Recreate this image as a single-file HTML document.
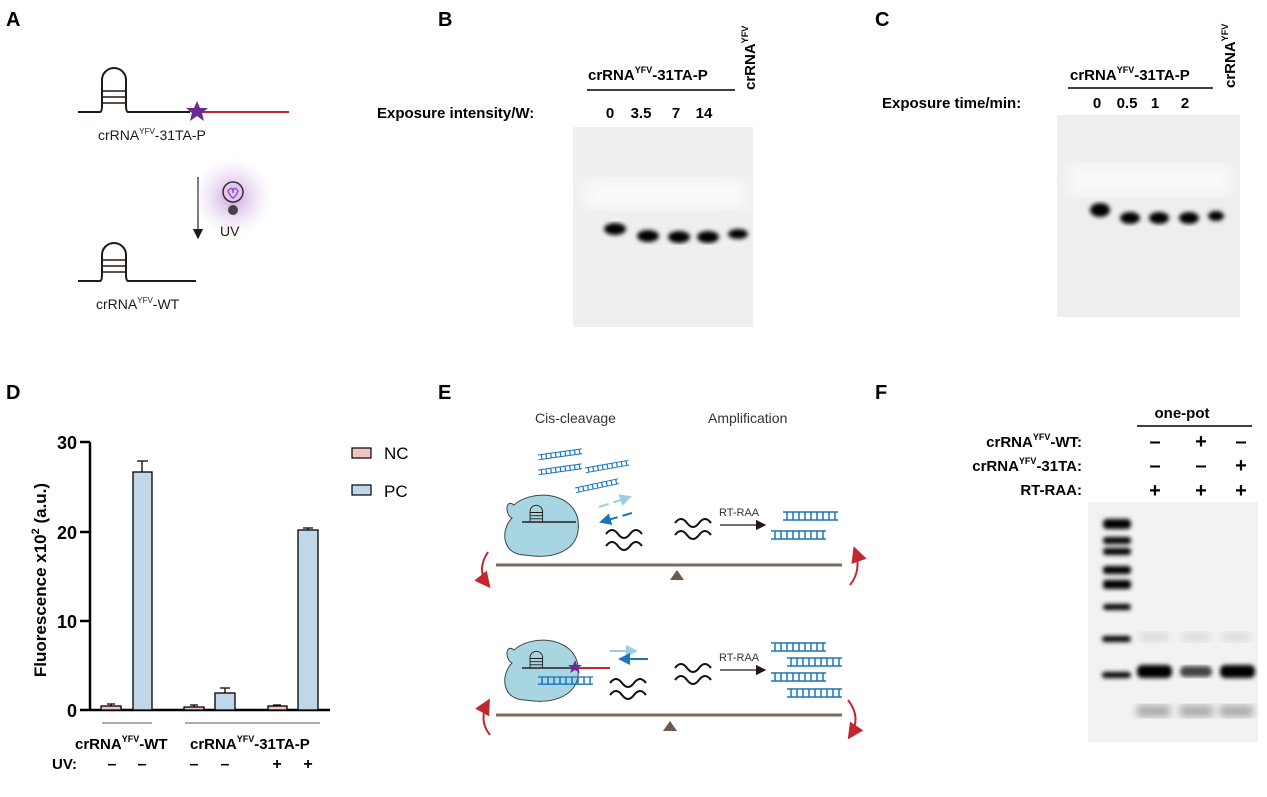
<!DOCTYPE html>
<html><head><meta charset="utf-8"><style>
html,body{margin:0;padding:0;background:#fff}
svg{display:block}
text{font-family:"Liberation Sans",Arial,sans-serif}
</style></head><body>
<svg width="1267" height="797" viewBox="0 0 1267 797" xmlns="http://www.w3.org/2000/svg">
<defs>
<filter id="b2"><feGaussianBlur stdDeviation="2"/></filter>
<filter id="b4"><feGaussianBlur stdDeviation="4"/></filter>
<filter id="b8"><feGaussianBlur stdDeviation="8"/></filter>
<radialGradient id="glow"><stop offset="0" stop-color="#b98ad0" stop-opacity=".8"/><stop offset="1" stop-color="#e6d3ef" stop-opacity="0"/></radialGradient>
<marker id="ah" markerWidth="8" markerHeight="8" refX="7" refY="4" orient="auto"><path d="M0,0 L8,4 L0,8 z" fill="#231815"/></marker>
<marker id="ahr" markerWidth="8" markerHeight="8" refX="6" refY="4" orient="auto"><path d="M0,0 L8,4 L0,8 z" fill="#c1272d"/></marker>
<marker id="ahb" markerWidth="6" markerHeight="6" refX="5" refY="3" orient="auto"><path d="M0,0 L6,3 L0,6 z" fill="#1b75bc"/></marker>
<marker id="ahl" markerWidth="6" markerHeight="6" refX="5" refY="3" orient="auto"><path d="M0,0 L6,3 L0,6 z" fill="#9ccbe8"/></marker>
<g id="hp" fill="none" stroke="#231815" stroke-width="2"><path d="M20,52 L20,28 A14,14 0 1 1 48,28 L48,52"/><path d="M20,30H48M20,37H48M20,44H48"/></g>
<g id="wave" fill="none" stroke="#111" stroke-width="2"><path d="M0,8 q6,-8 12,0 t12,0 t12,0"/><path d="M0,20 q6,-8 12,0 t12,0 t12,0"/></g>
<g id="ds" stroke="#1b75bc" stroke-width="1.5" fill="none"><path d="M0,0H55M0,8H55"/><path d="M4,0V8M10,0V8M16,0V8M22,0V8M28,0V8M34,0V8M40,0V8M46,0V8M52,0V8"/></g>
</defs>

<!-- Panel letters -->
<g font-size="20" font-weight="bold" fill="#000">
<text x="6" y="26">A</text><text x="438" y="26">B</text><text x="875" y="26">C</text>
<text x="6" y="399">D</text><text x="438" y="399">E</text><text x="875" y="399">F</text>
</g>

<!-- Panel A -->
<g fill="none" stroke="#231815" stroke-width="2">
<path d="M78,112H100 Q102,112 102,105 L102,80 A12,12 0 0 1 126,80 L126,105 Q126,112 128,112 H190"/>
<path d="M102,91H126M102,97H126M102,103H126" stroke-width="1.5"/>
<path d="M78,281H100 Q102,281 102,274 L102,255 A12,12 0 0 1 126,255 L126,274 Q126,281 128,281 H196"/>
<path d="M102,260H126M102,266H126M102,272H126" stroke-width="1.5"/>
</g>
<path d="M200,112H289" stroke="#c1272d" stroke-width="2"/>
<polygon points="197,101 200,108 208,108 202,113 204,121 197,116 190,121 192,113 186,108 194,108" fill="#6a2c91"/>
<line x1="198" y1="177" x2="198" y2="238" stroke="#333" stroke-width="1.3" marker-end="url(#ah)"/>
<circle cx="233" cy="197" r="40" fill="url(#glow)"/>
<circle cx="233" cy="192" r="10" fill="#e0c9ec" stroke="#3a2a3a" stroke-width="1.5"/>
<path d="M228,191 q5,-6 5,2 q0,-8 5,-2 q-2,5 -5,7 q-3,-2 -5,-7z" fill="none" stroke="#9b4fc4" stroke-width="1.5"/>
<circle cx="233" cy="210" r="5" fill="#4a4048"/>
<text x="98" y="140" font-size="14" fill="#231815">crRNA<tspan font-size="8" dy="-6">YFV</tspan><tspan dy="6">-31TA-P</tspan></text>
<text x="220" y="236" font-size="14" fill="#231815">UV</text>
<text x="96" y="309" font-size="14" fill="#231815">crRNA<tspan font-size="8" dy="-6">YFV</tspan><tspan dy="6">-WT</tspan></text>

<!-- Panel B -->
<text x="588" y="80" font-size="15" font-weight="bold">crRNA<tspan font-size="9" dy="-7">YFV</tspan><tspan dy="7">-31TA-P</tspan></text>
<line x1="587" y1="90" x2="735" y2="90" stroke="#000" stroke-width="1.5"/>
<text transform="translate(755,90) rotate(-90)" font-size="15" font-weight="bold">crRNA<tspan font-size="9" dy="-7">YFV</tspan></text>
<text x="377" y="118" font-size="15" font-weight="bold">Exposure intensity/W:</text>
<g font-size="15" font-weight="bold" text-anchor="middle"><text x="610" y="118">0</text><text x="641" y="118">3.5</text><text x="676" y="118">7</text><text x="704" y="118">14</text></g>
<rect x="573" y="127" width="180" height="200" fill="#efefef"/>
<rect x="585" y="180" width="160" height="28" fill="#fbfbfb" filter="url(#b8)"/>
<g fill="#000" filter="url(#b2)">
<ellipse cx="615" cy="229" rx="11" ry="6"/><ellipse cx="648" cy="236" rx="11" ry="6"/><ellipse cx="679" cy="237" rx="11" ry="6"/><ellipse cx="708" cy="237" rx="11" ry="6"/><ellipse cx="738" cy="234" rx="10" ry="5"/>
</g>

<!-- Panel C -->
<text x="1070" y="80" font-size="15" font-weight="bold">crRNA<tspan font-size="9" dy="-7">YFV</tspan><tspan dy="7">-31TA-P</tspan></text>
<line x1="1068" y1="88" x2="1213" y2="88" stroke="#000" stroke-width="1.5"/>
<text transform="translate(1235,88) rotate(-90)" font-size="15" font-weight="bold">crRNA<tspan font-size="9" dy="-7">YFV</tspan></text>
<text x="882" y="108" font-size="15" font-weight="bold">Exposure time/min:</text>
<g font-size="15" font-weight="bold" text-anchor="middle"><text x="1097" y="108">0</text><text x="1127" y="108">0.5</text><text x="1155" y="108">1</text><text x="1185" y="108">2</text></g>
<rect x="1057" y="115" width="183" height="202" fill="#eeeeee"/>
<rect x="1070" y="165" width="160" height="30" fill="#fbfbfb" filter="url(#b8)"/>
<g fill="#000" filter="url(#b2)">
<ellipse cx="1100" cy="210" rx="10" ry="7"/><ellipse cx="1130" cy="218" rx="10" ry="6"/><ellipse cx="1159" cy="218" rx="10" ry="6"/><ellipse cx="1189" cy="218" rx="10" ry="6"/><ellipse cx="1216" cy="216" rx="8" ry="5"/>
</g>

<!-- Panel D -->
<g stroke="#000" stroke-width="2.5" fill="none">
<path d="M90,442V711M80,442H90M80,532H90M80,621H90M80,710H90M89,710H330"/>
</g>
<g font-size="18" font-weight="bold" text-anchor="end"><text x="77" y="449">30</text><text x="77" y="539">20</text><text x="77" y="628">10</text><text x="77" y="717">0</text></g>
<text transform="translate(46,580) rotate(-90)" font-size="17" font-weight="bold" text-anchor="middle">Fluorescence x10<tspan font-size="11" dy="-7">2</tspan><tspan dy="7"> (a.u.)</tspan></text>
<g stroke="#000" stroke-width="1.3">
<rect x="101" y="706" width="20" height="4" fill="#f4c2c2"/>
<rect x="133" y="472" width="19" height="238" fill="#c0d7ea"/>
<rect x="184" y="707" width="20" height="3" fill="#f4c2c2"/>
<rect x="215" y="693" width="20" height="17" fill="#c0d7ea"/>
<rect x="268" y="706" width="19" height="4" fill="#f4c2c2"/>
<rect x="298" y="530" width="20" height="180" fill="#c0d7ea"/>
<path d="M142,472V461M137,461H148M111,706V704M107,704H115M225,693V688M220,688H230M308,530V528M303,528H313M194,707V705M190,705H198M277,706V705M273,705H281" fill="none"/>
</g>
<path d="M102,723H152M185,723H320" stroke="#555" stroke-width="1"/>
<text x="75" y="749" font-size="15" font-weight="bold">crRNA<tspan font-size="9" dy="-7">YFV</tspan><tspan dy="7">-WT</tspan></text>
<text x="190" y="749" font-size="15" font-weight="bold">crRNA<tspan font-size="9" dy="-7">YFV</tspan><tspan dy="7">-31TA-P</tspan></text>
<text x="52" y="769" font-size="15" font-weight="bold">UV:</text>
<g font-size="16" font-weight="bold" text-anchor="middle"><text x="112" y="769">–</text><text x="142" y="769">–</text><text x="194" y="769">–</text><text x="225" y="769">–</text><text x="277" y="769">+</text><text x="308" y="769">+</text></g>
<rect x="352" y="448" width="19" height="10" fill="#f4c2c2" stroke="#000" stroke-width="1.2"/>
<text x="384" y="459" font-size="17">NC</text>
<rect x="352" y="485" width="19" height="10" fill="#c0d7ea" stroke="#000" stroke-width="1.2"/>
<text x="384" y="497" font-size="17">PC</text>

<!-- Panel E -->
<text x="535" y="423" font-size="14" fill="#333">Cis-cleavage</text>
<text x="708" y="423" font-size="14" fill="#333">Amplification</text>
<g transform="translate(538,455) rotate(-8)"><use href="#ds" transform="scale(0.8,0.6)"/></g>
<g transform="translate(538,470) rotate(-8)"><use href="#ds" transform="scale(0.8,0.6)"/></g>
<g transform="translate(585,468) rotate(-10)"><use href="#ds" transform="scale(0.8,0.6)"/></g>
<g transform="translate(575,488) rotate(-12)"><use href="#ds" transform="scale(0.8,0.6)"/></g>
<path d="M514,505 C505,498 505,515 512,518 C500,530 502,555 525,555 C555,560 582,550 578,520 C572,490 530,490 514,505z" fill="#a8d5e2" stroke="#444" stroke-width="1"/>
<g transform="translate(521,499) scale(0.45)"><use href="#hp"/></g>
<path d="M522,522H576" stroke="#222" stroke-width="1.5"/>
<path d="M599,507L630,497" stroke="#9ccbe8" stroke-width="2" stroke-dasharray="10,5" marker-end="url(#ahl)"/>
<path d="M632,513L601,522" stroke="#1b75bc" stroke-width="2" stroke-dasharray="10,5" marker-end="url(#ahb)"/>
<use href="#wave" transform="translate(606,526)"/>
<use href="#wave" transform="translate(675,515)"/>
<text x="719" y="516" font-size="11" fill="#333">RT-RAA</text>
<line x1="720" y1="525" x2="765" y2="525" stroke="#231815" stroke-width="1.3" marker-end="url(#ah)"/>
<use href="#ds" transform="translate(783,512)"/>
<use href="#ds" transform="translate(771,531)"/>
<path d="M496,565H842" stroke="#7a6a5e" stroke-width="3"/>
<polygon points="670,580 677,570 684,580" fill="#6b5a4e"/>
<path d="M488,552 Q476,570 488,585" fill="none" stroke="#c1272d" stroke-width="2" marker-end="url(#ahr)"/>
<path d="M850,585 Q862,570 855,550" fill="none" stroke="#c1272d" stroke-width="2" marker-end="url(#ahr)"/>
<path d="M514,650 C505,643 505,660 512,663 C500,675 502,700 525,700 C555,705 582,695 578,665 C572,635 530,635 514,650z" fill="#a8d5e2" stroke="#444" stroke-width="1"/>
<g transform="translate(521,645) scale(0.45)"><use href="#hp"/></g>
<path d="M522,668H572" stroke="#222" stroke-width="1.5"/>
<path d="M572,668H610" stroke="#c1272d" stroke-width="2"/>
<polygon points="575,660 577,665 582,665 578,668 580,673 575,670 570,673 572,668 568,665 573,665" fill="#6a2c91"/>
<use href="#ds" transform="translate(538,677) scale(1,0.9)"/>
<path d="M610,651H636" stroke="#9ccbe8" stroke-width="2" marker-end="url(#ahl)"/>
<path d="M648,659H620" stroke="#1b75bc" stroke-width="2" marker-end="url(#ahb)"/>
<use href="#wave" transform="translate(610,675)"/>
<use href="#wave" transform="translate(675,660)"/>
<text x="719" y="661" font-size="11" fill="#333">RT-RAA</text>
<line x1="720" y1="670" x2="765" y2="670" stroke="#231815" stroke-width="1.3" marker-end="url(#ah)"/>
<use href="#ds" transform="translate(771,643)"/>
<use href="#ds" transform="translate(787,658)"/>
<use href="#ds" transform="translate(771,673)"/>
<use href="#ds" transform="translate(787,689)"/>
<path d="M496,715H842" stroke="#7a6a5e" stroke-width="3"/>
<polygon points="663,731 670,721 677,731" fill="#6b5a4e"/>
<path d="M490,735 Q478,720 488,702" fill="none" stroke="#c1272d" stroke-width="2" marker-end="url(#ahr)"/>
<path d="M848,700 Q862,718 850,736" fill="none" stroke="#c1272d" stroke-width="2" marker-end="url(#ahr)"/>

<!-- Panel F -->
<text x="1182" y="418" font-size="15" font-weight="bold" text-anchor="middle">one-pot</text>
<line x1="1137" y1="426" x2="1252" y2="426" stroke="#000" stroke-width="1.5"/>
<g font-size="15" font-weight="bold" text-anchor="end">
<text x="1082" y="447">crRNA<tspan font-size="9" dy="-7">YFV</tspan><tspan dy="7">-WT:</tspan></text>
<text x="1082" y="471">crRNA<tspan font-size="9" dy="-7">YFV</tspan><tspan dy="7">-31TA:</tspan></text>
<text x="1082" y="495">RT-RAA:</text>
</g>
<g font-size="20" font-weight="bold" text-anchor="middle">
<text x="1155" y="448">–</text><text x="1201" y="448">+</text><text x="1241" y="448">–</text>
<text x="1155" y="472">–</text><text x="1201" y="472">–</text><text x="1241" y="472">+</text>
<text x="1155" y="497">+</text><text x="1201" y="497">+</text><text x="1241" y="497">+</text>
</g>
<rect x="1088" y="502" width="170" height="240" fill="#f2f2f2"/>
<g fill="#000" filter="url(#b2)">
<rect x="1103" y="519" width="28" height="10" rx="4"/><rect x="1103" y="537" width="28" height="7" rx="3"/><rect x="1103" y="548" width="28" height="7" rx="3"/><rect x="1103" y="566" width="28" height="8" rx="3"/><rect x="1103" y="580" width="28" height="9" rx="3"/><rect x="1103" y="604" width="28" height="6" rx="3"/><rect x="1102" y="636" width="29" height="6" rx="3"/><rect x="1102" y="672" width="29" height="6" rx="3"/>
<rect x="1137" y="665" width="35" height="13" rx="5"/><rect x="1220" y="665" width="35" height="13" rx="5"/>
</g>
<rect x="1180" y="666" width="32" height="11" rx="5" fill="#444" filter="url(#b2)"/>
<g fill="#aaa" filter="url(#b4)"><rect x="1137" y="705" width="33" height="12"/><rect x="1180" y="705" width="33" height="12"/><rect x="1220" y="705" width="33" height="12"/></g>
<g fill="#dcdcdc" filter="url(#b4)"><rect x="1140" y="632" width="28" height="10"/><rect x="1182" y="632" width="28" height="10"/><rect x="1222" y="632" width="28" height="10"/></g>
</svg>
</body></html>
